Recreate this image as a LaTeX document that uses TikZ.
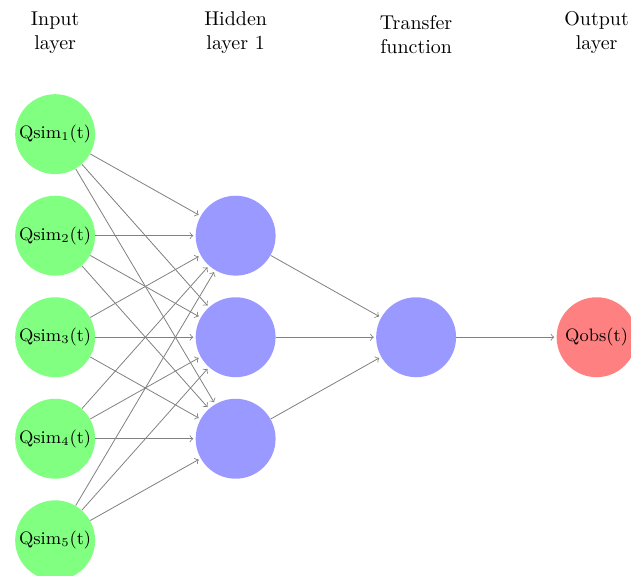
\documentclass[tikz,border=0pt]{standalone}
\usetikzlibrary{positioning}
\begin{document}
\begin{tikzpicture}[shorten >=1pt,->,draw=black!50,
  neuron/.style={circle,fill=black!25,minimum size=40pt,inner sep=0pt,font=\small},
  input neuron/.style={neuron,fill=green!50},
  output neuron/.style={neuron,fill=red!50},
  hidden neuron/.style={neuron,fill=blue!40},
  annot/.style={text width=4em,text centered}]

\def\layersep{3.175}
\def\nodesep{1.786}

\useasboundingbox (-0.97,2.36) rectangle (10.13,-7.77);

% input layer
\foreach \i in {1,...,5}
{
\node[input neuron] (I-\i) at (0,{-(\i-1)*\nodesep}) {Qsim$_\i$(t)};
}

% hidden layer
\foreach \i in {1,2,3}
{
\node[hidden neuron] (H-\i) at (\layersep,{-\i*\nodesep}) {};
}

\node[hidden neuron] (T) at ({2*\layersep},{-2*\nodesep}) {};
\node[output neuron] (O) at ({3*\layersep},{-2*\nodesep}) {Qobs(t)};

% connections
\foreach \s in {1,...,5}
\foreach \d in {1,2,3}
\path (I-\s) edge (H-\d);

\foreach \d in {1,2,3}
\path (H-\d) edge (T);
\path (T) edge (O);

% headings
\node[annot] (hi) at (0,\nodesep) {Input layer};
\node[annot] (hh) at (\layersep,\nodesep) {Hidden layer 1};
\node[annot] (ht) at ({2*\layersep},{\nodesep-0.04}) {Transfer function};
\node[annot] (ho) at ({3*\layersep},\nodesep) {Output layer};
\end{tikzpicture}
\end{document}
